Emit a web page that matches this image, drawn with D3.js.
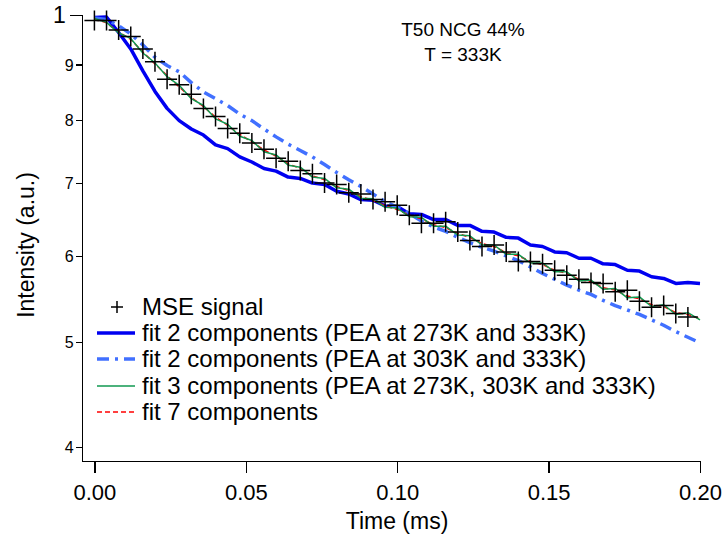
<!DOCTYPE html>
<html lang="en">
<head>
<meta charset="utf-8">
<style>
body { margin: 0; background: #fff; }
svg text { font-family: "Liberation Sans", Arial, sans-serif; fill: #000; }
.axis line, .axis path { stroke: #000; stroke-width: 1.3; fill: none; shape-rendering: crispEdges; }
</style>
</head>
<body>
<script src="https://d3js.org/d3.v7.min.js"></script>
<svg id="chart" width="723" height="537"></svg>
<script>
// time grid (ms), every 4 us
var time = [0.000, 0.004, 0.008, 0.012, 0.016, 0.020, 0.024, 0.028, 0.032, 0.036,
            0.040, 0.044, 0.048, 0.052, 0.056, 0.060, 0.064, 0.068, 0.072, 0.076,
            0.080, 0.084, 0.088, 0.092, 0.096, 0.100, 0.104, 0.108, 0.112, 0.116,
            0.120, 0.124, 0.128, 0.132, 0.136, 0.140, 0.144, 0.148, 0.152, 0.156,
            0.160, 0.164, 0.168, 0.172, 0.176, 0.180, 0.184, 0.188, 0.192, 0.196,
            0.200];

// MSE signal (one value per grid point up to 0.196)
var mse = [0.988, 0.988, 0.968, 0.955, 0.930, 0.905, 0.872, 0.862, 0.845, 0.820,
           0.806, 0.786, 0.778, 0.762, 0.752, 0.738, 0.733, 0.719, 0.714, 0.700,
           0.698, 0.686, 0.684, 0.676, 0.673, 0.668, 0.654, 0.643, 0.643, 0.645,
           0.631, 0.620, 0.612, 0.614, 0.605, 0.593, 0.593, 0.590, 0.582, 0.576,
           0.571, 0.567, 0.566, 0.556, 0.558, 0.545, 0.538, 0.540, 0.531, 0.527];

// fit 2 components (PEA at 273K and 333K)
var fit2a = [0.994, 0.995, 0.963, 0.930, 0.888, 0.850, 0.820, 0.799, 0.785, 0.775,
             0.759, 0.753, 0.740, 0.732, 0.722, 0.718, 0.709, 0.707, 0.700, 0.698,
             0.688, 0.684, 0.676, 0.675, 0.667, 0.666, 0.656, 0.655, 0.648, 0.648,
             0.640, 0.640, 0.632, 0.631, 0.624, 0.623, 0.614, 0.612, 0.605, 0.604,
             0.597, 0.597, 0.590, 0.589, 0.582, 0.581, 0.574, 0.572, 0.566, 0.567,
             0.566];

// fit 2 components (PEA at 303K and 333K)
var fit2b = [0.993, 0.990, 0.977, 0.960, 0.938, 0.914, 0.898, 0.886, 0.866, 0.849,
             0.837, 0.825, 0.810, 0.799, 0.785, 0.772, 0.760, 0.750, 0.740, 0.728,
             0.716, 0.705, 0.695, 0.684, 0.673, 0.665, 0.656, 0.646, 0.638, 0.632,
             0.624, 0.617, 0.611, 0.606, 0.600, 0.594, 0.586, 0.578, 0.571, 0.564,
             0.558, 0.553, 0.546, 0.540, 0.535, 0.530, 0.524, 0.518, 0.511, 0.505,
             0.499];

// fit 3 components (PEA at 273K, 303K and 333K)
var fit3 = [0.992, 0.984, 0.962, 0.951, 0.922, 0.903, 0.877, 0.861, 0.837, 0.825,
            0.802, 0.793, 0.773, 0.766, 0.748, 0.743, 0.727, 0.724, 0.709, 0.707,
            0.693, 0.691, 0.678, 0.677, 0.665, 0.664, 0.652, 0.651, 0.639, 0.639,
            0.627, 0.626, 0.614, 0.614, 0.602, 0.602, 0.591, 0.591, 0.580, 0.580,
            0.569, 0.570, 0.559, 0.560, 0.549, 0.550, 0.539, 0.541, 0.530, 0.532,
            0.524];

// fit 7 components
var fit7 = [0.991, 0.983, 0.964, 0.949, 0.924, 0.901, 0.879, 0.858, 0.839, 0.823,
            0.805, 0.791, 0.776, 0.764, 0.751, 0.741, 0.729, 0.722, 0.711, 0.705,
            0.695, 0.689, 0.680, 0.675, 0.667, 0.662, 0.654, 0.649, 0.641, 0.637,
            0.629, 0.624, 0.616, 0.612, 0.604, 0.600, 0.593, 0.589, 0.582, 0.578,
            0.571, 0.568, 0.561, 0.558, 0.551, 0.548, 0.541, 0.539, 0.532, 0.530,
            0.525];

var xTicks = [0, 0.05, 0.10, 0.15, 0.20];
var yTicks = [1, 0.9, 0.8, 0.7, 0.6, 0.5, 0.4];

var legendLabels = ["MSE signal",
                    "fit 2 components (PEA at 273K and 333K)",
                    "fit 2 components (PEA at 303K and 333K)",
                    "fit 3 components (PEA at 273K, 303K and 333K)",
                    "fit 7 components"];

var svg = d3.select("#chart");

var x = d3.scaleLinear().domain([-0.0042, 0.2]).range([81.7, 700]);
var y = d3.scaleLog().domain([0.3888, 1]).range([460.7, 14.7]);

// x axis
var xAxis = svg.append("g")
    .attr("class", "axis")
    .attr("transform", "translate(0,460.7)")
    .call(d3.axisBottom(x).tickValues(xTicks).tickSize(12).tickSizeOuter(0)
      .tickFormat(d3.format(".2f")));
xAxis.selectAll("text").attr("font-size", 22).attr("dy", null).attr("y", 39);

// y axis
var yAxis = svg.append("g")
    .attr("class", "axis")
    .attr("transform", "translate(81.7,0)")
    .call(d3.axisLeft(y).tickValues(yTicks).tickSizeOuter(0)
      .tickFormat(function(d) { return d === 1 ? "1" : String(Math.round(d * 10)); }));
yAxis.selectAll(".tick line").attr("x2", function(d) { return d === 1 ? -12 : -6; });
yAxis.selectAll(".tick text")
    .attr("x", function(d) { return d === 1 ? -16 : -8; })
    .attr("font-size", function(d) { return d === 1 ? 23 : 16; })
    .attr("dy", "0.35em");

svg.append("text")
    .attr("x", 397).attr("y", 529)
    .attr("text-anchor", "middle").attr("font-size", 23)
    .text("Time (ms)");

svg.append("text")
    .attr("transform", "translate(34,245) rotate(-90)")
    .attr("text-anchor", "middle").attr("font-size", 23)
    .text("Intensity (a.u.)");

// annotation
svg.append("text").attr("x", 463).attr("y", 36)
    .attr("text-anchor", "middle").attr("font-size", 19).text("T50 NCG 44%");
svg.append("text").attr("x", 463).attr("y", 61)
    .attr("text-anchor", "middle").attr("font-size", 19).text("T = 333K");

var line = d3.line()
    .x(function(d, i) { return x(time[i]); })
    .y(function(d) { return y(d); });

var styles = [
  null,
  {stroke: "#0000f0", width: 3.5, dash: null},
  {stroke: "#4170ff", width: 3.5, dash: "12,6,3,6"},
  {stroke: "#119950", width: 1.5, dash: null},
  {stroke: "#ff0000", width: 1.5, dash: "5,3"}
];
var series = [null, fit2a, fit2b, fit3, fit7];

[1, 2, 4, 3].forEach(function(k) {
  svg.append("path")
      .datum(series[k])
      .attr("d", line)
      .attr("fill", "none")
      .attr("stroke", styles[k].stroke)
      .attr("stroke-width", styles[k].width)
      .attr("stroke-dasharray", styles[k].dash)
      .attr("stroke-linejoin", "round");
});

// MSE crosses
svg.append("g").selectAll("path")
    .data(mse)
  .enter().append("path")
    .attr("transform", function(d, i) { return "translate(" + x(time[i]) + "," + y(d) + ")"; })
    .attr("d", "M-10,0H10M0,-10V10")
    .attr("stroke", "#000")
    .attr("stroke-width", 1.5);

// legend
var rowY = [307, 333, 359, 386, 412];
var legend = svg.append("g");
legendLabels.forEach(function(label, i) {
  if (i === 0) {
    legend.append("path")
        .attr("transform", "translate(117," + rowY[i] + ")")
        .attr("d", "M-6,0H6M0,-6V6")
        .attr("stroke", "#000").attr("stroke-width", 1.5);
  } else {
    legend.append("line")
        .attr("x1", 97).attr("x2", 135)
        .attr("y1", rowY[i]).attr("y2", rowY[i])
        .attr("stroke", styles[i].stroke)
        .attr("stroke-width", styles[i].width)
        .attr("stroke-dasharray", styles[i].dash);
  }
  legend.append("text")
      .attr("x", 142).attr("y", rowY[i])
      .attr("dy", "0.35em")
      .attr("font-size", 24)
      .text(label);
});
</script>
</body>
</html>
